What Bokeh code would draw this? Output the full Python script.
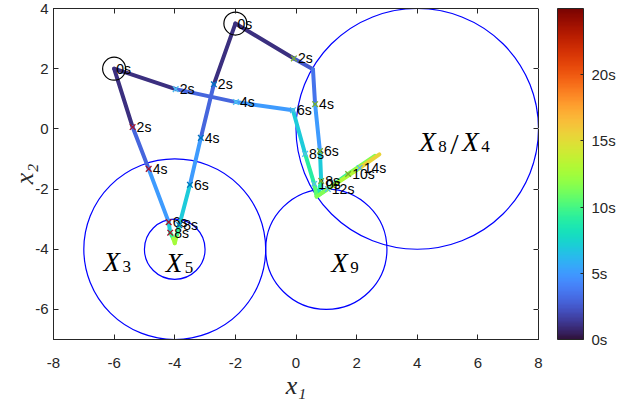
import numpy as np
from bokeh.plotting import figure
from bokeh.models import (LinearAxis, ColorBar, LinearColorMapper, FixedTicker,
                          ColumnDataSource, Range1d)
from bokeh.palettes import Turbo256
from bokeh.transform import linear_cmap
from bokeh.core.properties import value
from bokeh.embed import file_html
from bokeh.resources import INLINE

# ---------------- data ----------------
# robot A (red markers), starts at (-6, 2)
a_x = [-6.0, -5.39, -4.86, -4.20, -4.15, -4.05, -4.00]
a_y = [2.0, 0.06, -1.33, -3.10, -3.45, -3.65, -3.80]
a_t = [0, 2, 4, 6, 8, 11, 14]
a_marks = [2, 4, 6, 8]

# robot B (light-blue markers), starts at (-6, 2)
b_x = [-6.0, -3.97, -1.98, -0.10, 0.30, 0.60, 0.68, 1.05, 2.10, 2.75]
b_y = [2.0, 1.32, 0.89, 0.62, -0.83, -1.83, -2.25, -2.00, -1.30, -0.85]
b_t = [0, 2, 4, 6, 8, 10, 11, 12, 14, 17]
b_marks = [2, 4, 6, 8, 10, 12, 14]

# robot C (blue markers), starts at (-2, 3.5)
c_x = [-2.0, -2.71, -3.14, -3.50, -3.85, -3.95, -4.00]
c_y = [3.5, 1.48, -0.30, -1.86, -3.20, -3.60, -3.80]
c_t = [0, 2, 4, 6, 8, 11, 14]
c_marks = [2, 4, 6, 8]

# robot D (green markers), starts at (-2, 3.5)
d_x = [-2.0, -0.07, 0.56, 0.63, 0.79, 0.83, 0.72, 1.72, 2.60]
d_y = [3.5, 2.34, 1.98, 0.82, -0.74, -1.73, -2.22, -1.50, -0.90]
d_t = [0, 2, 3, 4, 6, 8, 9, 10, 13]
d_marks = [2, 4, 6, 8, 10]

# regions: centre x, centre y, radius
reg_x = [-4.0, -4.0, 1.0, 4.0]
reg_y = [-4.0, -4.0, -4.0, 0.0]
reg_r = [3.0, 1.0, 2.0, 4.0]

# region labels: (base x, base y) of the first letter, then tokens
lab_x = [-6.35, -4.30, 1.16, 4.07]
lab_y = [-4.44, -4.47, -4.47, -0.44]
lab_tokens = [
    [("X", "main"), ("3", "sub")],
    [("X", "main"), ("5", "sub")],
    [("X", "main"), ("9", "sub")],
    [("X", "main"), ("8", "sub"), ("/", "slash"), ("X", "main"), ("4", "sub")],
]

x_ticks = [-8, -6, -4, -2, 0, 2, 4, 6, 8]
y_ticks = [-6, -4, -2, 0, 2, 4]
cb_ticks = [0, 5, 10, 15, 20]
t_max = 25

robots = [
    (a_x, a_y, a_t, a_marks, "#a2142f"),
    (b_x, b_y, b_t, b_marks, "#4dbeee"),
    (c_x, c_y, c_t, c_marks, "#0072bd"),
    (d_x, d_y, d_t, d_marks, "#77ac30"),
]

DARK = "#262626"

p = figure(width=618, height=402, output_backend="svg", toolbar_location=None,
           x_range=Range1d(-8, 8), y_range=Range1d(-7, 4),
           min_border_left=53, min_border_right=10, min_border_top=8,
           min_border_bottom=63, x_axis_location=None, y_axis_location=None)
p.grid.visible = False
p.outline_line_color = DARK
p.background_fill_color = "white"
p.border_fill_color = "white"


def style_axis(ax, ticks):
    ax.axis_line_color = DARK
    ax.major_tick_line_color = DARK
    ax.major_tick_in = 5
    ax.major_tick_out = 0
    ax.minor_tick_line_color = None
    ax.major_label_text_color = DARK
    ax.major_label_text_font = "Liberation Sans"
    ax.major_label_text_font_size = "15px"
    ax.major_label_overrides = {t: str(t) for t in ticks}


def ticks_only(ax):
    ax.major_label_text_font_size = "0px"
    ax.major_label_text_color = None
    ax.major_label_standoff = 0


bottom = LinearAxis(ticker=FixedTicker(ticks=x_ticks), axis_label="x₁")
left = LinearAxis(ticker=FixedTicker(ticks=y_ticks), axis_label="x₂")
top = LinearAxis(ticker=FixedTicker(ticks=x_ticks))
right = LinearAxis(ticker=FixedTicker(ticks=y_ticks))
style_axis(bottom, x_ticks)
style_axis(top, x_ticks)
style_axis(left, y_ticks)
style_axis(right, y_ticks)
for ax in (bottom, left):
    ax.axis_label_text_font = "Liberation Serif"
    ax.axis_label_text_font_style = "italic"
    ax.axis_label_text_font_size = "26px"
    ax.axis_label_text_color = DARK
bottom.major_label_standoff = 18
bottom.axis_label_standoff = 0
left.major_label_standoff = 5
left.axis_label_standoff = -7
ticks_only(top)
ticks_only(right)
# spacer axis (white outward ticks on white) keeps the colour bar 19 px off the frame
spacer = LinearAxis(ticker=FixedTicker(ticks=y_ticks), axis_line_color=None,
                    major_tick_out=19, major_tick_in=0, major_tick_line_color="white",
                    minor_tick_line_color=None)
ticks_only(spacer)
p.add_layout(bottom, "below")
p.add_layout(left, "left")
p.add_layout(top, "above")
p.add_layout(right, "right")
p.add_layout(spacer, "right")

# region circles
p.ellipse(x=reg_x, y=reg_y, width=[2 * r for r in reg_r], height=[2 * r for r in reg_r],
          fill_color=None, line_color="#0000ff", line_width=1.2)

# trajectories, coloured by time
cmap = linear_cmap("t", Turbo256, 0, t_max)
for xs, ys, ts, marks, mc in robots[::-1]:
    src = ColumnDataSource(dict(
        x0=xs[:-1], y0=ys[:-1], x1=xs[1:], y1=ys[1:],
        t=[(ts[i] + ts[i + 1]) / 2 for i in range(len(ts) - 1)]))
    p.segment("x0", "y0", "x1", "y1", source=src, line_color=cmap,
              line_width=4, line_cap="round")

for xs, ys, ts, marks, mc in robots:
    mx = [xs[ts.index(m)] for m in marks]
    my = [ys[ts.index(m)] for m in marks]
    p.scatter(mx, my, marker="x", size=8, line_color=mc, line_width=1.3)
    p.text(mx, my, text=[f"{m}s" for m in marks], x_offset=4,
           text_baseline="middle", text_font=value("Liberation Sans"),
           text_font_size="14px", text_color="black")

# start points
start_x = [a_x[0], c_x[0]]
start_y = [a_y[0], c_y[0]]
p.scatter(start_x, start_y, marker="circle", size=23, fill_color=None,
          line_color="black", line_width=1.2)
p.text(start_x, start_y, text=["0s", "0s"], x_offset=2, text_baseline="middle",
       text_font=value("Liberation Sans"), text_font_size="14px", text_color="black")

# region labels, laid out token by token (math-style X with subscripts)
# kind: (style, size, gap before, advance, vertical offset)
tok_style = {"main": ("italic", "27px", 0, 17, 0),
             "sub": ("normal", "17px", 2, 11, 4),
             "slash": ("normal", "30px", 1, 12, 1)}
for bx, by, toks in zip(lab_x, lab_y, lab_tokens):
    off = 0
    for txt, kind in toks:
        style, size, gap, adv, dy = tok_style[kind]
        off += gap
        p.text([bx], [by], text=[txt], x_offset=off, y_offset=dy,
               text_align="left", text_baseline="alphabetic",
               text_font=value("Liberation Serif"), text_font_style=style,
               text_font_size=size, text_color="black")
        off += adv

# colour bar
mapper = LinearColorMapper(palette=Turbo256, low=0, high=t_max)
cb = ColorBar(color_mapper=mapper, ticker=FixedTicker(ticks=cb_ticks),
              major_label_overrides={t: f"{t}s" for t in cb_ticks},
              width=26, height=331, padding=0, margin=0,
              bar_line_color=DARK, bar_line_width=1,
              major_tick_line_color=DARK, major_tick_in=3, major_tick_out=0,
              minor_tick_line_color=None,
              major_label_text_font="Liberation Sans", major_label_text_font_size="15px",
              major_label_text_color=DARK, label_standoff=8,
              border_line_color=None, background_fill_color=None)
p.add_layout(cb, "right")

open("out.html", "w").write(file_html(p, INLINE))
